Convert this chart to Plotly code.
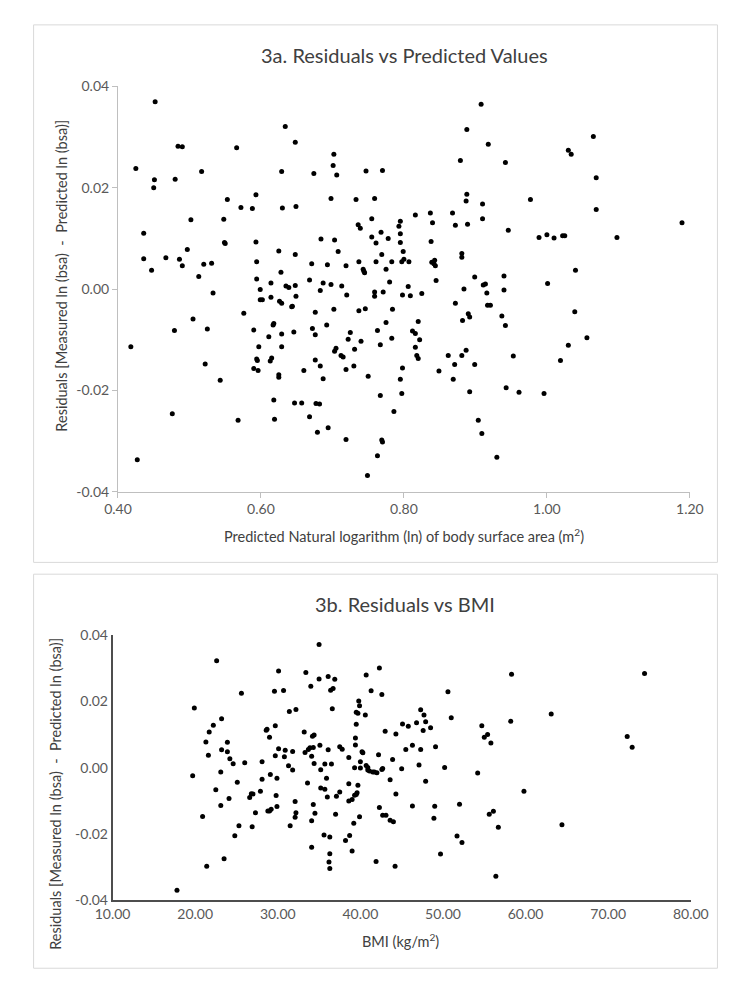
import plotly.graph_objects as go

# 3a: predicted ln(bsa) vs residual
pred_ln_bsa = [
    0.418, 0.425, 0.427, 0.436, 0.436, 0.447, 0.452, 0.451, 0.450, 0.467,
    0.476, 0.479, 0.480, 0.484, 0.490, 0.486, 0.490, 0.497, 0.502, 0.505,
    0.513, 0.517, 0.520, 0.522, 0.525, 0.531, 0.533, 0.543, 0.548, 0.549,
    0.550, 0.553, 0.566, 0.568, 0.572, 0.576, 0.588, 0.590, 0.593, 0.593,
    0.594, 0.594, 0.594, 0.595, 0.590, 0.596, 0.597, 0.599, 0.599, 0.602,
    0.611, 0.613, 0.614, 0.614, 0.615, 0.617, 0.618, 0.618, 0.619, 0.625,
    0.625, 0.625, 0.626, 0.629, 0.628, 0.629, 0.629, 0.629, 0.630, 0.634,
    0.635, 0.639, 0.643, 0.644, 0.646, 0.647, 0.648, 0.648, 0.648, 0.649,
    0.649, 0.657, 0.660, 0.668, 0.668, 0.671, 0.672, 0.674, 0.676, 0.676,
    0.676, 0.677, 0.679, 0.682, 0.683, 0.683, 0.684, 0.687, 0.687, 0.692,
    0.693, 0.694, 0.698, 0.698, 0.702, 0.701, 0.702, 0.703, 0.703, 0.705,
    0.706, 0.708, 0.712, 0.715, 0.713, 0.719, 0.719, 0.719, 0.720, 0.722,
    0.725, 0.730, 0.731, 0.733, 0.736, 0.739, 0.737, 0.737, 0.740, 0.743,
    0.745, 0.744, 0.746, 0.747, 0.749, 0.750, 0.755, 0.755, 0.759, 0.759,
    0.759, 0.761, 0.761, 0.763, 0.763, 0.767, 0.767, 0.768, 0.769, 0.769,
    0.770, 0.770, 0.771, 0.775, 0.775, 0.778, 0.780, 0.783, 0.783, 0.784,
    0.786, 0.793, 0.795, 0.795, 0.795, 0.795, 0.797, 0.797, 0.798, 0.798,
    0.799, 0.800, 0.806, 0.807, 0.809, 0.812, 0.816, 0.816, 0.816, 0.818,
    0.820, 0.820, 0.822, 0.825, 0.837, 0.838, 0.839, 0.840, 0.842, 0.843,
    0.844, 0.845, 0.849, 0.862, 0.868, 0.869, 0.871, 0.872, 0.872, 0.879,
    0.881, 0.881, 0.881, 0.882, 0.884, 0.887, 0.887, 0.888, 0.888, 0.889,
    0.890, 0.892, 0.892, 0.899, 0.899, 0.904, 0.908, 0.909, 0.910, 0.910,
    0.911, 0.914, 0.916, 0.917, 0.918, 0.921, 0.930, 0.937, 0.940, 0.940,
    0.942, 0.942, 0.943, 0.946, 0.953, 0.961, 0.977, 0.989, 0.996, 1.000,
    1.001, 1.010, 1.019, 1.022, 1.025, 1.030, 1.030, 1.034, 1.039, 1.040,
    1.056, 1.065, 1.069, 1.069, 1.098, 1.189,
]
resid_a = [
    -0.0114, 0.0238, -0.0337, 0.0110, 0.0060, 0.0037, 0.0370, 0.0216, 0.0200, 0.0062,
    -0.0246, -0.0082, 0.0217, 0.0282, 0.0281, 0.0059, 0.0046, 0.0078, 0.0137, -0.0059,
    0.0025, 0.0232, 0.0049, -0.0148, -0.0079, 0.0051, -0.0008, -0.0180, 0.0138, 0.0092,
    0.0090, 0.0177, 0.0279, -0.0259, 0.0161, -0.0048, 0.0159, -0.0081, 0.0186, 0.0093,
    0.0054, 0.0020, -0.0138, -0.0141, -0.0157, -0.0161, -0.0114, -0.0001, -0.0021, -0.0021,
    -0.0094, -0.0142, 0.0012, -0.0016, -0.0136, -0.0071, -0.0068, -0.0219, -0.0257, 0.0075,
    -0.0174, -0.0169, -0.0024, -0.0028, 0.0033, -0.0114, -0.0089, 0.0232, 0.0160, 0.0321,
    0.0006, 0.0003, -0.0035, -0.0034, -0.0085, -0.0225, 0.0290, 0.0068, 0.0007, -0.0014,
    0.0163, -0.0225, -0.0161, -0.0252, 0.0018, 0.0050, -0.0078, 0.0228, -0.0140, -0.0090,
    -0.0046, -0.0226, -0.0283, -0.0227, -0.0152, -0.0003, 0.0099, -0.0177, 0.0012, -0.0071,
    0.0048, -0.0274, 0.0009, 0.0179, 0.0266, 0.0244, -0.0040, -0.0123, 0.0097, -0.0117,
    0.0225, 0.0074, -0.0131, -0.0134, 0.0006, -0.0159, -0.0297, 0.0046, -0.0012, -0.0099,
    -0.0086, -0.0152, -0.0119, 0.0177, 0.0127, 0.0120, -0.0043, 0.0054, -0.0103, 0.0039,
    0.0032, 0.0035, -0.0039, 0.0233, -0.0368, -0.0172, 0.0139, 0.0103, 0.0179, -0.0006,
    -0.0014, 0.0091, 0.0054, -0.0329, -0.0082, -0.0210, -0.0110, 0.0112, 0.0068, -0.0298,
    -0.0302, 0.0234, -0.0006, -0.0066, 0.0039, 0.0100, 0.0014, 0.0054, -0.0097, -0.0040,
    -0.0242, 0.0124, 0.0134, 0.0109, 0.0092, -0.0178, -0.0206, 0.0054, -0.0156, -0.0012,
    0.0074, 0.0059, 0.0005, 0.0054, -0.0013, -0.0083, 0.0146, -0.0088, -0.0115, -0.0131,
    -0.0064, -0.0137, -0.0100, -0.0009, 0.0150, 0.0094, 0.0053, 0.0131, 0.0050, 0.0057,
    0.0046, 0.0017, -0.0162, -0.0131, 0.0150, -0.0178, -0.0149, -0.0028, 0.0126, 0.0254,
    0.0070, 0.0063, -0.0131, -0.0062, 0.0000, 0.0174, -0.0121, 0.0187, 0.0315, 0.0128,
    -0.0049, -0.0055, -0.0203, 0.0024, -0.0149, -0.0259, 0.0365, -0.0285, 0.0168, 0.0139,
    0.0008, 0.0010, -0.0008, -0.0032, 0.0286, -0.0032, -0.0332, -0.0053, 0.0026, -0.0002,
    0.0250, -0.0072, -0.0195, 0.0116, -0.0132, -0.0204, 0.0177, 0.0102, -0.0206, 0.0107,
    0.0011, 0.0101, -0.0141, 0.0105, 0.0105, -0.0111, 0.0274, 0.0266, -0.0045, 0.0037,
    -0.0096, 0.0301, 0.0220, 0.0157, 0.0102, 0.0131,
]

# 3b: BMI vs residual
bmi = [
    17.8, 19.7, 19.9, 20.9, 21.3, 21.4, 21.6, 21.7, 22.2, 22.5,
    22.6, 23.1, 23.1, 23.2, 23.2, 23.5, 23.9, 23.9, 24.1, 24.2,
    24.6, 24.8, 25.1, 25.3, 25.6, 26.0, 26.6, 26.8, 26.9, 27.0,
    27.3, 27.9, 28.1, 28.1, 28.6, 28.7, 28.8, 29.0, 29.0, 29.1,
    29.2, 29.6, 29.7, 29.7, 29.8, 29.9, 29.9, 30.1, 30.1, 30.7,
    30.8, 30.9, 31.3, 31.4, 31.5, 31.8, 31.8, 32.1, 32.1, 32.2,
    32.2, 33.2, 33.3, 33.4, 33.6, 33.7, 33.9, 34.0, 34.1, 34.1,
    34.1, 34.2, 34.3, 34.3, 34.4, 34.4, 34.5, 35.0, 35.0, 35.1,
    35.2, 35.2, 35.6, 35.7, 35.7, 35.9, 36.0, 36.1, 36.1, 36.2,
    36.3, 36.3, 36.3, 36.4, 36.5, 36.6, 36.7, 36.9, 37.0, 37.1,
    37.5, 37.5, 37.8, 38.2, 38.6, 38.6, 38.6, 38.7, 39.0, 39.0,
    39.2, 39.3, 39.3, 39.4, 39.4, 39.5, 39.5, 39.5, 39.6, 39.7,
    39.7, 39.8, 39.9, 39.9, 40.0, 40.0, 40.2, 40.3, 40.6, 40.7,
    40.7, 40.9, 40.9, 41.1, 41.3, 41.5, 41.7, 41.9, 42.0, 42.2,
    42.3, 42.3, 42.6, 42.6, 42.7, 42.7, 43.0, 43.1, 43.6, 43.6,
    43.9, 44.0, 44.2, 44.3, 44.3, 45.0, 45.1, 45.5, 45.8, 46.3,
    46.3, 46.8, 47.1, 47.3, 47.3, 47.6, 47.7, 47.9, 47.9, 48.5,
    48.9, 49.0, 49.1, 49.7, 50.2, 50.6, 51.0, 51.7, 52.0, 52.3,
    54.2, 54.7, 55.0, 55.4, 55.6, 55.8, 56.1, 56.4, 56.7, 58.2,
    58.3, 59.8, 63.1, 64.4, 72.3, 72.9, 74.4,
]
resid_b = [
    -0.0369, -0.0024, 0.0180, -0.0147, 0.0078, -0.0297, 0.0038, 0.0108, 0.0128, -0.0066,
    0.0323, -0.0013, -0.0114, 0.0148, 0.0054, -0.0274, 0.0077, 0.0048, -0.0093, 0.0027,
    0.0012, -0.0205, -0.0044, -0.0175, 0.0225, 0.0015, -0.0090, -0.0078, -0.0178, -0.0079,
    -0.0136, -0.0071, 0.0018, -0.0035, 0.0113, 0.0116, -0.0130, 0.0092, -0.0130, -0.0020,
    -0.0125, 0.0231, 0.0127, 0.0036, -0.0084, -0.0032, -0.0117, 0.0292, 0.0057, 0.0233,
    0.0033, 0.0053, 0.0006, 0.0170, -0.0175, 0.0049, -0.0007, -0.0102, -0.0149, -0.0136,
    0.0176, 0.0108, 0.0046, 0.0287, -0.0046, 0.0055, 0.0060, 0.0246, 0.0035, -0.0160,
    -0.0240, 0.0095, -0.0111, 0.0061, 0.0099, 0.0013, -0.0137, 0.0372, 0.0268, 0.0068,
    -0.0006, -0.0061, -0.0203, 0.0011, -0.0065, -0.0032, -0.0088, 0.0275, 0.0054, -0.0284,
    -0.0304, -0.0209, -0.0259, 0.0234, 0.0011, 0.0178, 0.0239, 0.0267, -0.0140, -0.0086,
    -0.0073, 0.0063, 0.0056, -0.0219, -0.0048, 0.0031, -0.0100, -0.0204, -0.0096, -0.0251,
    -0.0167, -0.0083, 0.0000, 0.0090, 0.0069, 0.0167, 0.0131, -0.0081, -0.0075, 0.0164,
    -0.0053, 0.0201, -0.0148, 0.0187, -0.0001, 0.0018, 0.0048, 0.0045, 0.0159, 0.0280,
    0.0007, -0.0007, 0.0001, -0.0010, 0.0232, -0.0013, -0.0013, -0.0283, -0.0015, 0.0039,
    0.0301, -0.0120, 0.0221, -0.0005, -0.0002, -0.0143, 0.0110, -0.0143, -0.0036, -0.0158,
    0.0025, -0.0163, -0.0297, 0.0102, -0.0079, -0.0003, 0.0132, 0.0055, 0.0125, -0.0115,
    0.0068, 0.0136, 0.0008, 0.0055, 0.0175, 0.0112, 0.0159, -0.0041, 0.0139, 0.0121,
    -0.0152, -0.0116, 0.0063, -0.0260, 0.0001, 0.0229, 0.0151, -0.0206, -0.0110, -0.0225,
    -0.0016, 0.0127, 0.0092, 0.0100, -0.0140, 0.0075, -0.0131, -0.0327, -0.0179, 0.0140,
    0.0282, -0.0071, 0.0162, -0.0172, 0.0094, 0.0062, 0.0284,
]

x_ticks_a = [0.4, 0.6, 0.8, 1.0, 1.2]
x_labels_a = ["0.40", "0.60", "0.80", "1.00", "1.20"]
x_ticks_b = [10, 20, 30, 40, 50, 60, 70, 80]
x_labels_b = ["10.00", "20.00", "30.00", "40.00", "50.00", "60.00", "70.00", "80.00"]
y_ticks = [-0.04, -0.02, 0.0, 0.02, 0.04]
y_labels = ["-0.04", "-0.02", "0.00", "0.02", "0.04"]

W, H = 736, 981
FONT = "Lato, 'Open Sans', sans-serif"
TICK_COL = "#595959"
TITLE_COL = "#404040"
Y_TITLE = "Residuals [Measured ln (bsa)\u00a0\u00a0-\u00a0\u00a0Predicted ln (bsa)]"

fig = go.Figure()
fig.add_trace(go.Scatter(x=pred_ln_bsa, y=resid_a, mode="markers",
                         marker=dict(color="black", size=5), xaxis="x", yaxis="y",
                         showlegend=False))
fig.add_trace(go.Scatter(x=bmi, y=resid_b, mode="markers",
                         marker=dict(color="black", size=5), xaxis="x2", yaxis="y2",
                         showlegend=False))

light_axis = dict(showgrid=False, zeroline=False, showline=True, linecolor="#bfbfbf",
                  linewidth=1, ticks="outside", ticklen=5, tickcolor="#bfbfbf",
                  tickfont=dict(family=FONT, size=14, color=TICK_COL))
dark_axis = dict(showgrid=False, zeroline=False, showline=True, linecolor="#4d4d4d",
                 linewidth=1.5, ticks="", tickfont=dict(family=FONT, size=14, color=TICK_COL))

fig.update_layout(
    width=W, height=H,
    margin=dict(l=0, r=0, t=0, b=0),
    paper_bgcolor="white", plot_bgcolor="white",
    xaxis=dict(light_axis, domain=[96.7 / W, 698 / W], range=[0.4, 1.2],
               tickvals=x_ticks_a, ticktext=x_labels_a, anchor="y"),
    yaxis=dict(light_axis, domain=[1 - 483 / H, 1 - 70.7 / H], range=[-0.04, 0.04],
               tickvals=y_ticks, ticktext=y_labels, anchor="x"),
    xaxis2=dict(dark_axis, domain=[91 / W, 699 / W], range=[10, 80],
                tickvals=x_ticks_b, ticktext=x_labels_b, anchor="y2"),
    yaxis2=dict(dark_axis, domain=[1 - 899 / H, 1 - 629 / H], range=[-0.04, 0.04],
                tickvals=y_ticks, ticktext=y_labels, anchor="x2"),
    shapes=[
        dict(type="rect", xref="paper", yref="paper", x0=8 / W, x1=727 / W,
             y0=1 - 555 / H, y1=1 - 8 / H, line=dict(color="#d9d9d9", width=1)),
        dict(type="rect", xref="paper", yref="paper", x0=8 / W, x1=727 / W,
             y0=1 - 968 / H, y1=1 - 567 / H, line=dict(color="#d9d9d9", width=1)),
    ],
)

ann = [
    dict(text="3a. Residuals vs Predicted Values", x=398 / W, y=1 - 39 / H, size=20),
    dict(text="3b. Residuals vs BMI", x=398 / W, y=1 - 597 / H, size=20),
    dict(text="Predicted Natural logarithm (ln) of body surface area (m<sup>2</sup>)",
         x=397 / W, y=1 - 528 / H, size=14.5),
    dict(text="BMI (kg/m<sup>2</sup>)", x=394 / W, y=1 - 940 / H, size=14.5),
    dict(text=Y_TITLE, x=37 / W, y=1 - 263 / H, size=14.5, angle=-90),
    dict(text=Y_TITLE, x=31 / W, y=1 - 790 / H, size=14.5, angle=-90),
]
for a in ann:
    fig.add_annotation(text=a["text"], x=a["x"], y=a["y"], xref="paper", yref="paper",
                       showarrow=False, xanchor="center", yanchor="middle",
                       textangle=a.get("angle", 0),
                       font=dict(family=FONT, size=a["size"], color=TITLE_COL))

fig.write_html("out.html")
